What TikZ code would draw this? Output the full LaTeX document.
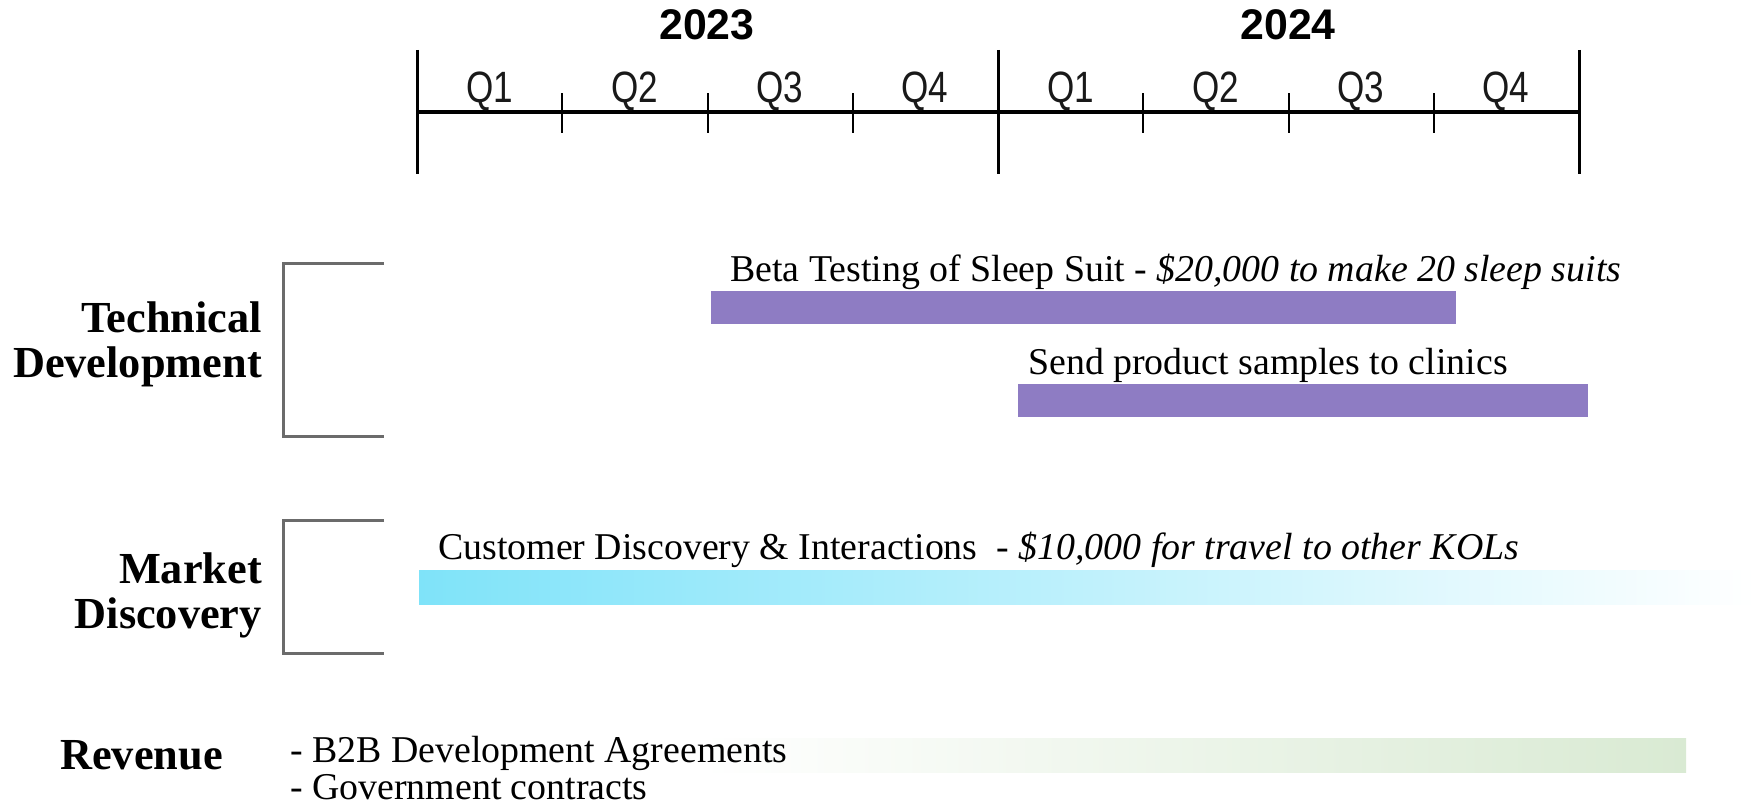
\documentclass[tikz,border=0pt]{standalone}
\usepackage{fontspec}
\setmainfont{Liberation Serif}
\newfontfamily\yearfont{Liberation Sans}
\newfontfamily\qfont[FakeStretch=0.8]{Liberation Sans}
\definecolor{purp}{HTML}{8E7CC3}
\definecolor{cyanbar}{HTML}{7FE3F9}
\definecolor{greenbar}{HTML}{D9EAD3}
\definecolor{brk}{HTML}{6B6B6B}
\begin{document}
\begin{tikzpicture}[x=1bp,y=-1bp,
  axisline/.style={line width=4.5bp,black},
  yline/.style={line width=3bp,black},
  qtick/.style={line width=2.8bp,black},
  bracketline/.style={draw=brk,line width=3bp},
  yearlbl/.style={font=\yearfont\bfseries\fontsize{43}{45}\selectfont,inner sep=0},
  qlbl/.style={font=\qfont\fontsize{44}{46}\selectfont,text=black!90,inner sep=0},
  grplbl/.style={font=\bfseries\fontsize{44.5}{46}\selectfont,anchor=base east,inner sep=0},
  bodytxt/.style={font=\fontsize{38}{42}\selectfont,anchor=base west,inner sep=0},
]
\useasboundingbox (0,0) rectangle (1756,804);

% timeline
\coordinate (aL) at (417,112);
\coordinate (aR) at (1579,112);
\draw[axisline] (aL) -- (aR);
\foreach \x/\n in {417/v0,998/v1,1579/v2}{
  \coordinate (\n t) at (\x,50);
  \coordinate (\n b) at (\x,174);
  \draw[yline] (\n t) -- (\n b);
}
\foreach \x/\n in {562/t1,708/t2,853/t3,1143/t4,1289/t5,1434/t6}{
  \coordinate (\n t) at (\x,93);
  \coordinate (\n b) at (\x,133);
  \draw[qtick] (\n t) -- (\n b);
}
\node[yearlbl] (y2023) at (707,25) {2023};
\node[yearlbl] (y2024) at (1288,25) {2024};
\foreach \x/\q/\n in {490/Q1/qa,635/Q2/qb,780/Q3/qc,925/Q4/qd,1071/Q1/qe,1216/Q2/qf,1361/Q3/qg,1506/Q4/qh}{
  \node[qlbl] (\n) at (\x,91) {\q};
}

% group labels and brackets
\node[grplbl] (tech1) at (262,332) {Technical};
\node[grplbl] (tech2) at (262,377) {Development};
\node[grplbl] (mkt1) at (262,583) {Market};
\node[grplbl] (mkt2) at (262,628) {Discovery};
\coordinate (b1a) at (384,263);
\coordinate (b1b) at (283,436);
\coordinate (b1c) at (384,436);
\draw[bracketline] (b1a) -| (b1b) -- (b1c);
\coordinate (b2a) at (384,520);
\coordinate (b2b) at (283,653);
\coordinate (b2c) at (384,653);
\draw[bracketline] (b2a) -| (b2b) -- (b2c);

% bars
\fill[purp] (711,291) rectangle (1456,324);
\fill[purp] (1018,384) rectangle (1588,417);
\shade[left color=cyanbar,right color=white] (419,570) rectangle (1756,604);
\shade[left color=white,right color=greenbar] (700,738) rectangle (1686,772);

% bar texts
\node[bodytxt] (beta) at (730,281) {Beta Testing of Sleep Suit - \textit{\$20,000 to make 20 sleep suits}};
\node[bodytxt] (send) at (1028,374) {Send product samples to clinics};
\node[bodytxt] (cust) at (438,559) {Customer Discovery \& Interactions\ \ - \textit{\$10,000 for travel to other KOLs}};

% revenue
\node[grplbl,anchor=base west] (rev) at (60,769) {Revenue};
\node[bodytxt] (rev1) at (290,762) {- B2B Development Agreements};
\node[bodytxt] (rev2) at (290,799) {- Government contracts};
\end{tikzpicture}
\end{document}
